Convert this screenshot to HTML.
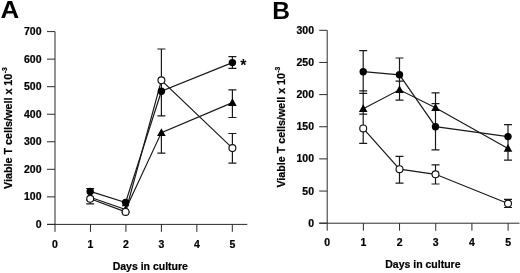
<!DOCTYPE html>
<html><head><meta charset="utf-8"><title>Viable T cells</title>
<style>
html,body{margin:0;padding:0;background:#fff;}
body{width:520px;height:273px;overflow:hidden;}
svg{display:block;will-change:transform;}
.t{font-family:"Liberation Sans",sans-serif;font-weight:bold;font-size:10.5px;fill:#000;stroke:#000;stroke-width:0.22px;}
.yt{font-size:10.5px;}
.big{font-family:"Liberation Sans",sans-serif;font-weight:bold;font-size:23.5px;fill:#000;}
.ast{font-family:"Liberation Sans",sans-serif;font-weight:bold;font-size:16px;fill:#000;}
</style></head><body>
<svg width="520" height="273" viewBox="0 0 520 273">
<rect width="520" height="273" fill="#fff"/>
<text transform="translate(0.6 18.4) scale(1.1 1.01)" class="big">A</text>
<path d="M55 31.6V224.4M47 224.4H247.3" stroke="#2a2a2a" stroke-width="1" fill="none"/>
<text x="41.5" y="227.85" text-anchor="end" class="t">0</text>
<text x="41.5" y="200.31" text-anchor="end" class="t">100</text>
<text x="41.5" y="172.76" text-anchor="end" class="t">200</text>
<text x="41.5" y="145.22" text-anchor="end" class="t">300</text>
<text x="41.5" y="117.68" text-anchor="end" class="t">400</text>
<text x="41.5" y="90.14" text-anchor="end" class="t">500</text>
<text x="41.5" y="62.59" text-anchor="end" class="t">600</text>
<text x="41.5" y="35.05" text-anchor="end" class="t">700</text>
<text x="55" y="247.8" text-anchor="middle" class="t">0</text>
<text x="90.46" y="247.8" text-anchor="middle" class="t">1</text>
<text x="125.92" y="247.8" text-anchor="middle" class="t">2</text>
<text x="161.38" y="247.8" text-anchor="middle" class="t">3</text>
<text x="196.84" y="247.8" text-anchor="middle" class="t">4</text>
<text x="232.3" y="247.8" text-anchor="middle" class="t">5</text>
<path d="M47 224.4H55M47 196.86H55M47 169.31H55M47 141.77H55M47 114.23H55M47 86.69H55M47 59.14H55M47 31.6H55M55 224.4V231.9M90.46 224.4V231.9M125.92 224.4V231.9M161.38 224.4V231.9M196.84 224.4V231.9M232.3 224.4V231.9" stroke="#2a2a2a" stroke-width="1" fill="none"/>
<text x="150.3" y="269.9" text-anchor="middle" class="t">Days in culture</text>
<text transform="translate(12.3 189) rotate(-90) scale(1.028 1)" class="t yt">Viable T cells/well x 10<tspan dy="-4.9" dx="0.3" font-size="6.5">-3</tspan></text>
<path d="M90.2 191.4L125.6 202.5L161.4 91.3L232.4 62.6" stroke="#1a1a1a" stroke-width="1.2" fill="none"/>
<path d="M90.2 197.2L125.6 209.5L161.4 132.6L232.4 102.6" stroke="#1a1a1a" stroke-width="1.2" fill="none"/>
<path d="M90.2 198.8L125.6 211.9L161.4 80.3L232.4 148.1" stroke="#1a1a1a" stroke-width="1.2" fill="none"/>
<path d="M90.2 188.5V203.8M86.2 188.5H94.2M86.2 203.8H94.2" stroke="#1a1a1a" stroke-width="1.2" fill="none"/>
<path d="M125.6 199V206M122.1 205.6H129.1" stroke="#1a1a1a" stroke-width="1.2" fill="none"/>
<path d="M161.4 49V115.9M157.4 49H165.4M157.4 115.9H165.4" stroke="#1a1a1a" stroke-width="1.2" fill="none"/>
<path d="M161.4 132.6V153.1M157.4 153.1H165.4" stroke="#1a1a1a" stroke-width="1.2" fill="none"/>
<path d="M232.4 56.7V68.4M228.4 56.7H236.4M228.4 68.4H236.4" stroke="#1a1a1a" stroke-width="1.2" fill="none"/>
<path d="M232.4 89.9V117.5M228.4 89.9H236.4M228.4 117.5H236.4" stroke="#1a1a1a" stroke-width="1.2" fill="none"/>
<path d="M232.4 133.5V163.1M228.4 133.5H236.4M228.4 163.1H236.4" stroke="#1a1a1a" stroke-width="1.2" fill="none"/>
<path d="M90.2 192.8L94.5 200.5H85.9Z" fill="#000"/>
<path d="M125.6 205.1L129.9 212.8H121.3Z" fill="#000"/>
<path d="M161.4 128.2L165.7 135.9H157.1Z" fill="#000"/>
<path d="M232.4 98.2L236.7 105.9H228.1Z" fill="#000"/>
<circle cx="90.2" cy="191.4" r="3.7" fill="#000"/>
<circle cx="125.6" cy="202.5" r="3.7" fill="#000"/>
<circle cx="161.4" cy="91.3" r="3.7" fill="#000"/>
<circle cx="232.4" cy="62.6" r="3.7" fill="#000"/>
<circle cx="90.2" cy="198.8" r="3.45" fill="#fff" stroke="#111" stroke-width="1.15"/>
<circle cx="125.6" cy="211.9" r="3.45" fill="#fff" stroke="#111" stroke-width="1.15"/>
<circle cx="161.4" cy="80.3" r="3.45" fill="#fff" stroke="#111" stroke-width="1.15"/>
<circle cx="232.4" cy="148.1" r="3.45" fill="#fff" stroke="#111" stroke-width="1.15"/>
<text x="243.3" y="71.3" text-anchor="middle" class="ast">*</text>
<text transform="translate(272.3 18.5) scale(1.045 1.01)" class="big">B</text>
<path d="M327.2 30.3V223.2M319.2 223.2H519.5" stroke="#2a2a2a" stroke-width="1" fill="none"/>
<text x="314" y="226.65" text-anchor="end" class="t">0</text>
<text x="314" y="194.5" text-anchor="end" class="t">50</text>
<text x="314" y="162.35" text-anchor="end" class="t">100</text>
<text x="314" y="130.2" text-anchor="end" class="t">150</text>
<text x="314" y="98.05" text-anchor="end" class="t">200</text>
<text x="314" y="65.9" text-anchor="end" class="t">250</text>
<text x="314" y="33.75" text-anchor="end" class="t">300</text>
<text x="327.2" y="245.7" text-anchor="middle" class="t">0</text>
<text x="363.38" y="245.7" text-anchor="middle" class="t">1</text>
<text x="399.56" y="245.7" text-anchor="middle" class="t">2</text>
<text x="435.74" y="245.7" text-anchor="middle" class="t">3</text>
<text x="471.92" y="245.7" text-anchor="middle" class="t">4</text>
<text x="508.1" y="245.7" text-anchor="middle" class="t">5</text>
<path d="M319.2 223.2H327.2M319.2 191.05H327.2M319.2 158.9H327.2M319.2 126.75H327.2M319.2 94.6H327.2M319.2 62.45H327.2M319.2 30.3H327.2M327.2 223.2V230.7M363.38 223.2V230.7M399.56 223.2V230.7M435.74 223.2V230.7M471.92 223.2V230.7M508.1 223.2V230.7" stroke="#2a2a2a" stroke-width="1" fill="none"/>
<text x="422.9" y="268.2" text-anchor="middle" class="t">Days in culture</text>
<text transform="translate(284.7 187.6) rotate(-90) scale(1.02 1)" class="t yt">Viable T cells/well x 10<tspan dy="-4.9" dx="0.3" font-size="6.5">-3</tspan></text>
<path d="M363.2 71.7L399.5 74.8L435.5 126.7L508 136.6" stroke="#1a1a1a" stroke-width="1.2" fill="none"/>
<path d="M363.2 108.7L399.5 89.8L435.5 107.7L508 148.5" stroke="#1a1a1a" stroke-width="1.2" fill="none"/>
<path d="M363.2 128.4L399.5 169.2L435.5 174.3L508 203.5" stroke="#1a1a1a" stroke-width="1.2" fill="none"/>
<path d="M363.2 50.6V143.4M359.2 50.6H367.2M359.2 90.8H367.2M359.2 93.3H367.2M359.2 114.2H367.2M359.2 143.4H367.2" stroke="#1a1a1a" stroke-width="1.2" fill="none"/>
<path d="M399.5 58V100.1M395.5 58H403.5M395.5 81.2H403.5M395.5 100.1H403.5" stroke="#1a1a1a" stroke-width="1.2" fill="none"/>
<path d="M399.5 156.4V183.1M395.5 156.4H403.5M395.5 183.1H403.5" stroke="#1a1a1a" stroke-width="1.2" fill="none"/>
<path d="M435.5 92.8V149.9M431.5 92.8H439.5M431.5 103.7H439.5M431.5 149.9H439.5" stroke="#1a1a1a" stroke-width="1.2" fill="none"/>
<path d="M435.5 164.8V184M431.5 164.8H439.5M431.5 184H439.5" stroke="#1a1a1a" stroke-width="1.2" fill="none"/>
<path d="M508 124.7V160.1M504 124.7H512M504 160.1H512" stroke="#1a1a1a" stroke-width="1.2" fill="none"/>
<path d="M508 199.3V207.5M504 199.3H512M504 207.5H512" stroke="#1a1a1a" stroke-width="1.2" fill="none"/>
<path d="M363.2 104.3L367.5 112H358.9Z" fill="#000"/>
<path d="M399.5 85.4L403.8 93.1H395.2Z" fill="#000"/>
<path d="M435.5 103.3L439.8 111H431.2Z" fill="#000"/>
<path d="M508 144.1L512.3 151.8H503.7Z" fill="#000"/>
<circle cx="363.2" cy="71.7" r="3.7" fill="#000"/>
<circle cx="399.5" cy="74.8" r="3.7" fill="#000"/>
<circle cx="435.5" cy="126.7" r="3.7" fill="#000"/>
<circle cx="508" cy="136.6" r="3.7" fill="#000"/>
<circle cx="363.2" cy="128.4" r="3.45" fill="#fff" stroke="#111" stroke-width="1.15"/>
<circle cx="399.5" cy="169.2" r="3.45" fill="#fff" stroke="#111" stroke-width="1.15"/>
<circle cx="435.5" cy="174.3" r="3.45" fill="#fff" stroke="#111" stroke-width="1.15"/>
<circle cx="508" cy="203.5" r="3.45" fill="#fff" stroke="#111" stroke-width="1.15"/>
</svg>
</body></html>
